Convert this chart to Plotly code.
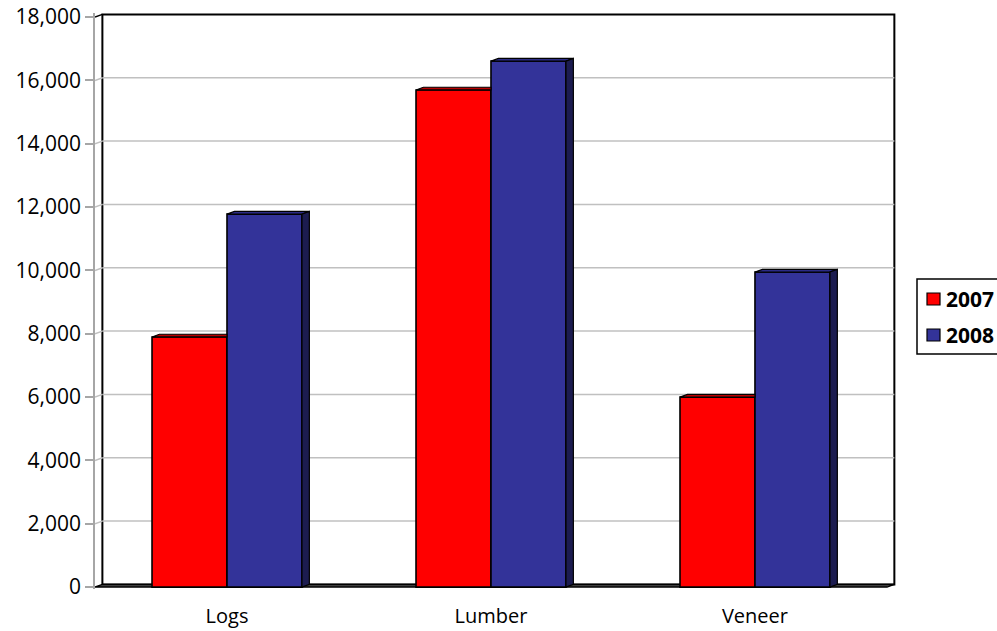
import plotly.graph_objects as go

# ---- data -------------------------------------------------------------
categories = ["Logs", "Lumber", "Veneer"]
series_names = ["2007", "2008"]
values_2007 = [7900, 15700, 6000]
values_2008 = [11780, 16610, 9950]
y_tick_values = [0, 2000, 4000, 6000, 8000, 10000, 12000, 14000, 16000, 18000]
y_tick_labels = ["0", "2,000", "4,000", "6,000", "8,000", "10,000",
                 "12,000", "14,000", "16,000", "18,000"]

# ---- styling / geometry ----------------------------------------------
W, H = 997, 631
ML, MR, MT, MB = 95, 100, 13, 42
X_RANGE = [-0.5, 2.538]
Y_RANGE = [-60, 18130]
DX, DY = 0.028, 85          # depth offset of the pseudo-3D look
BAR_W = 0.284
FONT = "Open Sans"

front_colors = ["#FF0000", "#333399"]
top_colors = ["#B80000", "#2B2B86"]
side_colors = ["#8A0000", "#1C1C50"]

series_values = [values_2007, values_2008]
x_pos = list(range(len(categories)))

fig = go.Figure()

# front faces of the columns
for s, (name, vals) in enumerate(zip(series_names, series_values)):
    fig.add_trace(go.Bar(
        x=x_pos, y=vals, name=name, width=BAR_W,
        offset=-BAR_W if s == 0 else 0.0,
        marker=dict(color=front_colors[s], line=dict(color="black", width=1.6)),
        showlegend=False, hoverinfo="skip"))

# top and side faces
for s, vals in enumerate(series_values):
    for i, v in enumerate(vals):
        x0 = i - BAR_W if s == 0 else i
        x1 = x0 + BAR_W
        nxt = series_values[s + 1][i] if s + 1 < len(series_values) else None
        hidden_right = nxt is not None and nxt > v + DY
        if hidden_right:
            tx = [x0, x1, x1, x0 + DX, x0]
        else:
            tx = [x0, x1, x1 + DX, x0 + DX, x0]
        ty = [v, v, v + DY, v + DY, v]
        fig.add_trace(go.Scatter(
            x=tx, y=ty, mode="lines", fill="toself", fillcolor=top_colors[s],
            line=dict(color="black", width=1.2), showlegend=False, hoverinfo="skip"))
        if not hidden_right:
            fig.add_trace(go.Scatter(
                x=[x1, x1 + DX, x1 + DX, x1, x1], y=[0, DY, v + DY, v, 0],
                mode="lines", fill="toself", fillcolor=side_colors[s],
                line=dict(color="black", width=1.2), showlegend=False, hoverinfo="skip"))

shapes = []
x_lo, x_hi = -0.5, len(categories) - 0.5
top = y_tick_values[-1]
# back wall
shapes.append(dict(type="rect", xref="x", yref="y", layer="below",
                   x0=x_lo + DX, x1=x_hi + DX, y0=DY, y1=top + DY,
                   line=dict(color="black", width=2), fillcolor="white"))
# gridlines on the back wall and their run across the side wall
for v in y_tick_values[1:-1]:
    shapes.append(dict(type="line", xref="x", yref="y", layer="below",
                       x0=x_lo + DX, x1=x_hi + DX, y0=v + DY, y1=v + DY,
                       line=dict(color="#C0C0C0", width=1.5)))
    shapes.append(dict(type="line", xref="x", yref="y", layer="below",
                       x0=x_lo, x1=x_lo + DX, y0=v, y1=v + DY,
                       line=dict(color="#C0C0C0", width=1.5)))
shapes.append(dict(type="line", xref="x", yref="y", layer="below",
                   x0=x_lo, x1=x_lo + DX, y0=top, y1=top + DY,
                   line=dict(color="black", width=1.5)))
# floor
shapes.append(dict(type="path", xref="x", yref="y", layer="below",
                   path=f"M {x_lo},0 L {x_hi},0 L {x_hi + DX},{DY} L {x_lo + DX},{DY} Z",
                   fillcolor="#555555", line=dict(color="black", width=1.5)))

# legend box drawn in pixel terms
plot_w = W - ML - MR
plot_h = H - MT - MB


def px_x(px):
    return (px - ML) / plot_w


def px_y(py):
    return (H - MB - py) / plot_h


annotations = []
shapes.append(dict(type="rect", xref="paper", yref="paper",
                   x0=px_x(917), x1=px_x(1040), y0=px_y(354), y1=px_y(279),
                   line=dict(color="black", width=1.5), fillcolor="white"))
for s, name in enumerate(series_names):
    top_px = 293 + s * 36
    shapes.append(dict(type="rect", xref="paper", yref="paper",
                       x0=px_x(927), x1=px_x(940), y0=px_y(top_px + 12), y1=px_y(top_px),
                       line=dict(color="black", width=1.2), fillcolor=front_colors[s]))
    annotations.append(dict(xref="paper", yref="paper", x=px_x(944), y=px_y(top_px + 6),
                            xanchor="left", yanchor="middle", showarrow=False,
                            text=f"<b>{name}</b>",
                            font=dict(family=FONT, size=21, color="black")))

fig.update_layout(
    width=W, height=H, margin=dict(l=ML, r=MR, t=MT, b=MB, autoexpand=False),
    paper_bgcolor="white", plot_bgcolor="white",
    barmode="overlay", showlegend=False,
    shapes=shapes, annotations=annotations,
    font=dict(family=FONT, color="black"),
    xaxis=dict(range=X_RANGE, tickvals=x_pos, ticktext=categories, automargin=False,
               ticks="outside", ticklen=9, tickcolor="rgba(0,0,0,0)",
               showgrid=False, zeroline=False, showline=False,
               tickfont=dict(family=FONT, size=20, color="black"), fixedrange=True),
    xaxis2=dict(range=X_RANGE, overlaying="x", anchor="y", side="bottom", automargin=False,
                tickvals=[c - 0.5 for c in x_pos] + [x_pos[-1] + 0.5],
                ticks="outside", ticklen=7, tickwidth=1.5, tickcolor="black",
                showticklabels=False, showgrid=False, zeroline=False, showline=False),
    yaxis=dict(range=Y_RANGE, tickvals=y_tick_values, ticktext=y_tick_labels,
               automargin=False,
               ticks="outside", ticklen=8, tickwidth=1.5, tickcolor="#A6A6A6",
               showline=True, linecolor="#A6A6A6", linewidth=1.5,
               showgrid=False, zeroline=False,
               tickfont=dict(family=FONT, size=21, color="black")),
)

fig.write_html("out.html")
